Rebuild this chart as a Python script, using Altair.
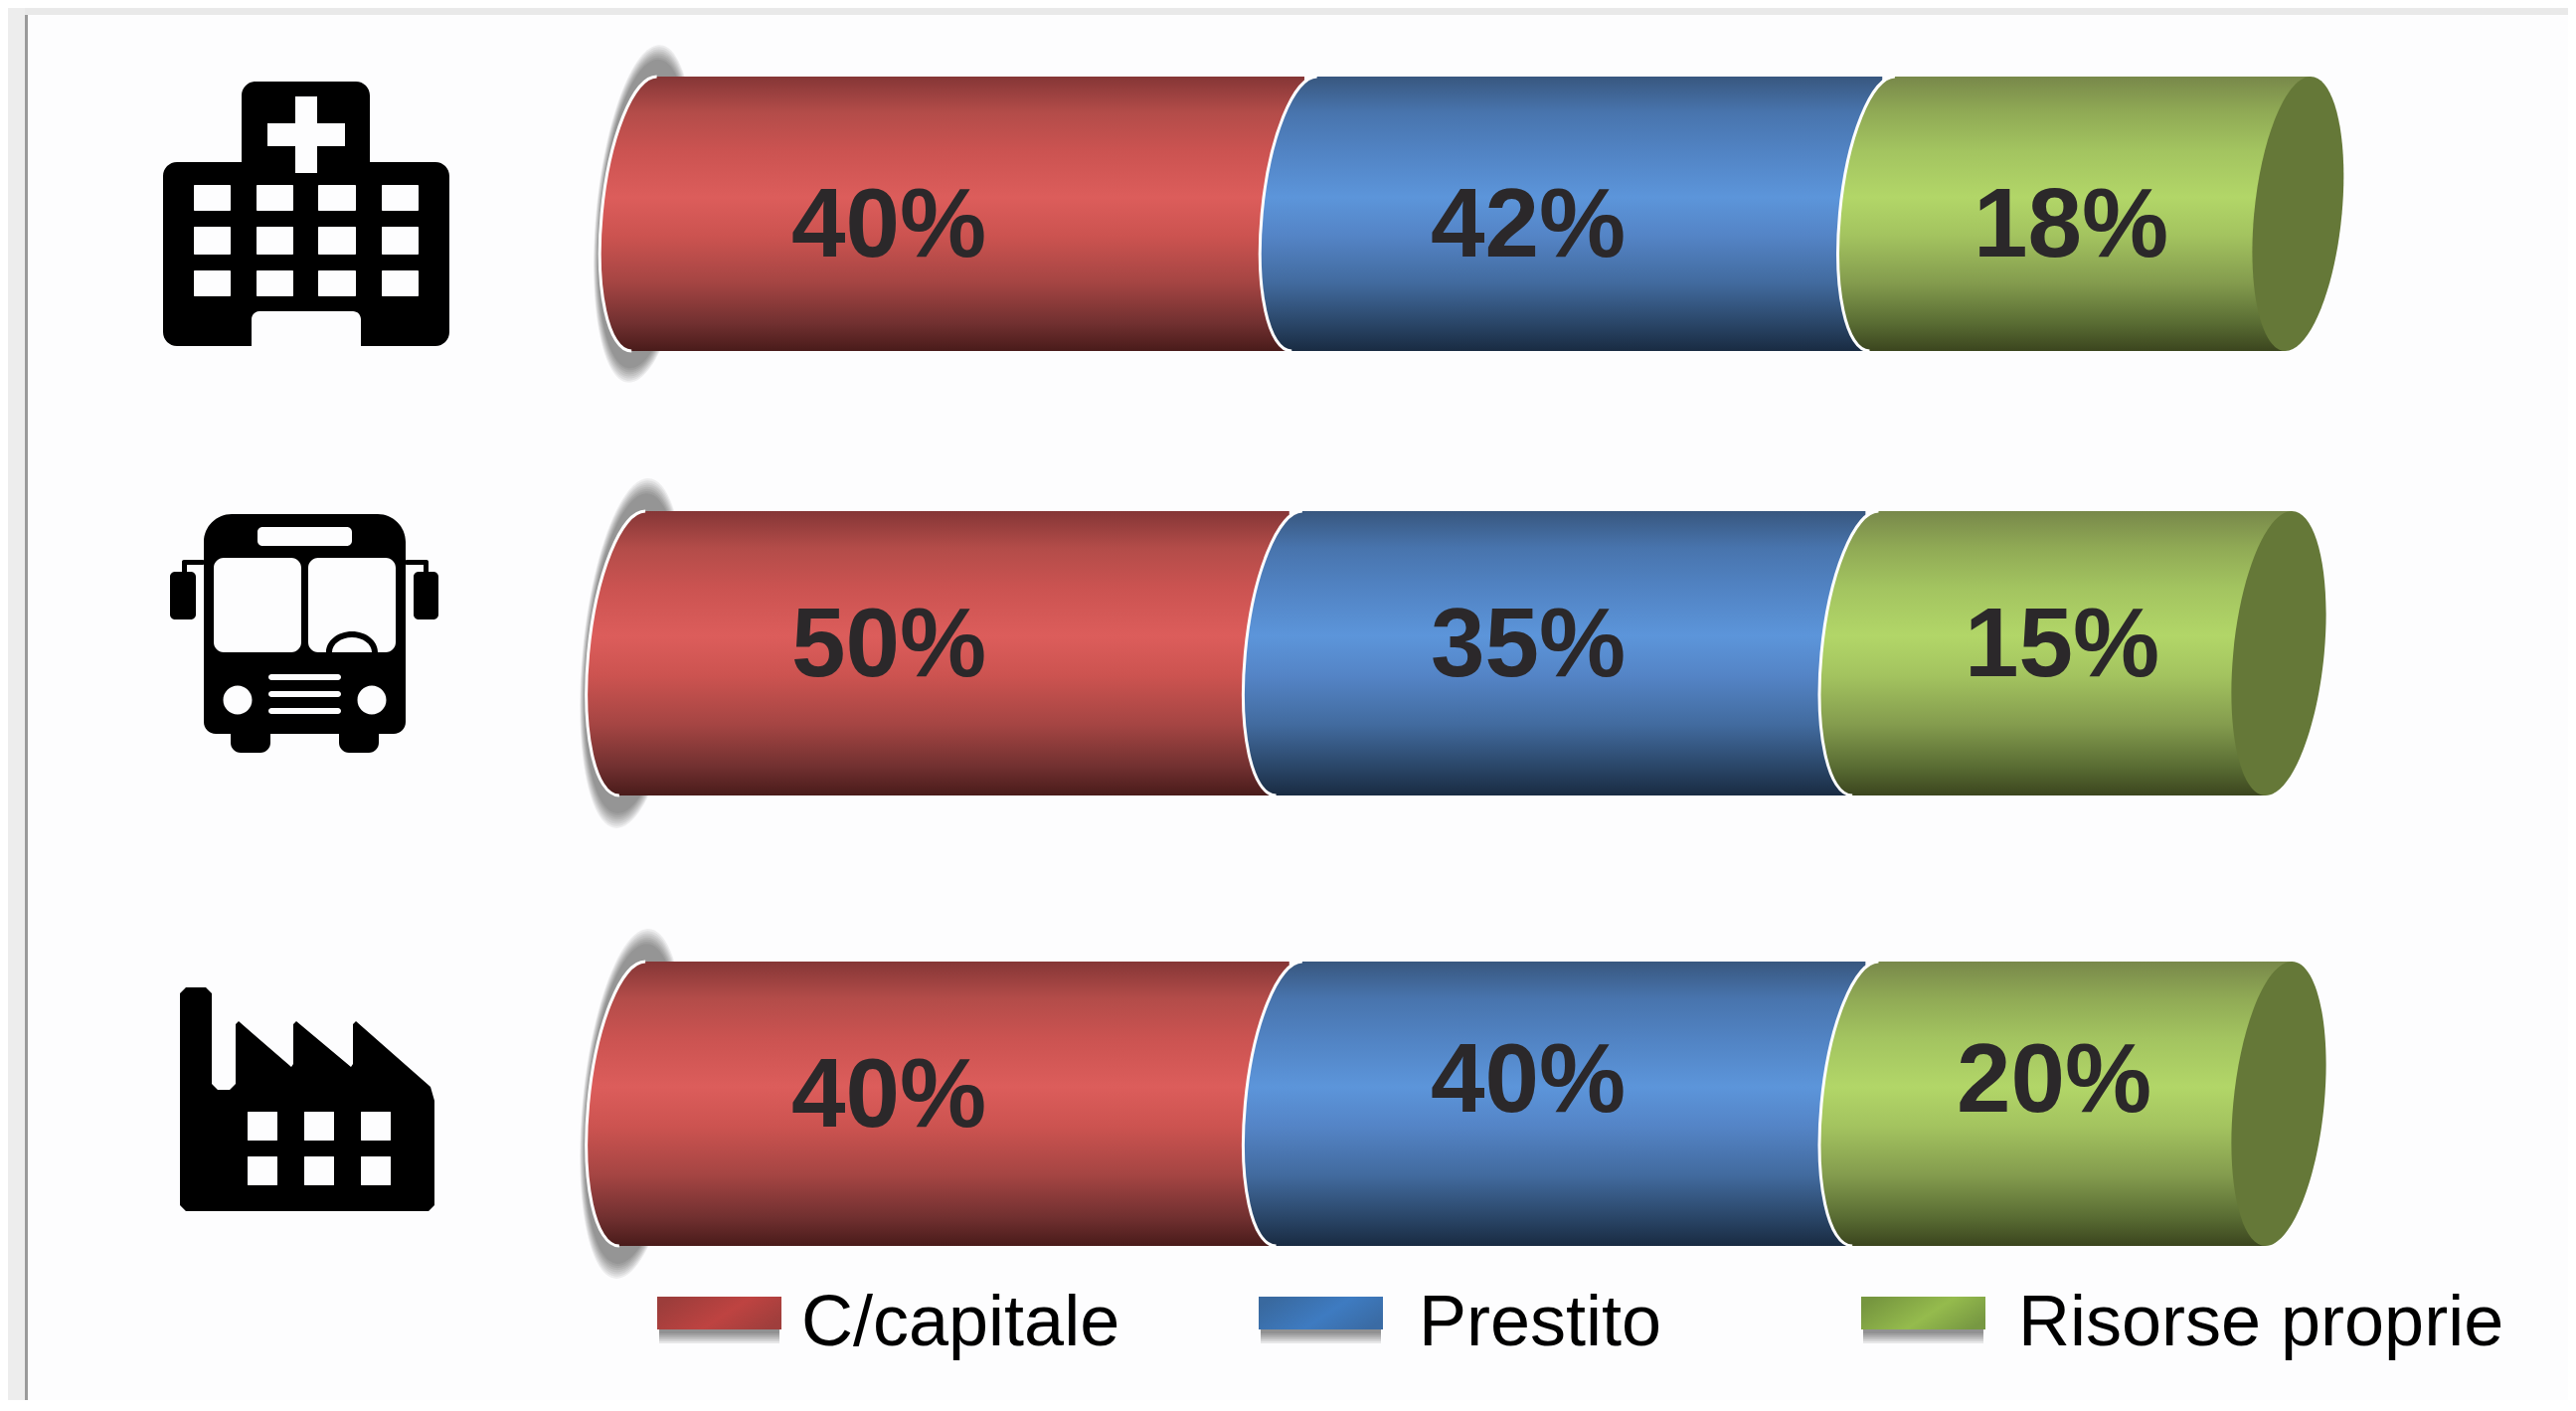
import altair as alt
import pandas as pd

# ---------- values ----------
series = ["C/capitale", "Prestito", "Risorse proprie"]
row_names = ["Ospedale", "Autobus", "Fabbrica"]
labels = [[40, 42, 18], [50, 35, 15], [40, 40, 20]]
drawn_share = [[40.1, 35.1, 25.25], [39.9, 35.0, 25.1], [39.9, 35.0, 25.1]]
row_start = [0.72, 0.0, 0.0]
row_top = [77, 514, 967]
row_bottom = [353, 800, 1253]
label_x = [[894, 1537, 2083], [894, 1537, 2074], [894, 1537, 2066]]
label_base = [[258, 258, 258], [680, 680, 680], [1133, 1118, 1118]]
legend_x = [661, 1266, 1872]
legend_text_x = [806, 1427, 2030]
icon_cx = [308, 308, 308]
icon_cy = [215, 640, 1105]

stops_all = {
    "C/capitale": [(0, "#853636"), (.13, "#b34c49"), (.27, "#cb5351"), (.44, "#dc5d5b"), (.58, "#cc5350"),
                   (.75, "#a54543"), (.9, "#713030"), (1, "#491b1a")],
    "Prestito": [(0, "#38577f"), (.13, "#4874ad"), (.27, "#5183c3"), (.44, "#5c95da"), (.58, "#5484c6"),
                 (.75, "#426b9f"), (.9, "#2a4668"), (1, "#192b42")],
    "Risorse proprie": [(0, "#78884a"), (.13, "#90aa55"), (.27, "#a3c460"), (.44, "#b2d668"), (.58, "#a3c35f"),
                        (.75, "#849c4e"), (.9, "#596c33"), (1, "#3b451e")],
}
legend_stops = {
    "C/capitale": ["#9c3d3b", "#be4341", "#9f3e3c"],
    "Prestito": ["#39699f", "#3e7bc1", "#3a6ba4"],
    "Risorse proprie": ["#76963f", "#95bb4d", "#779842"],
}
cap_color = "#657838"
text_color = "#2b282a"

# ---------- canvas ----------
W, H = 2575, 1400
UNIT = 16.56
ORIGIN = 636


def u(px):
    return (px - ORIGIN) / UNIT


xs = alt.Scale(domain=[u(8), u(8 + W)])
ys = alt.Scale(domain=[8 + H, 8])
X = alt.X("x:Q", scale=xs, axis=None)
Y = alt.Y("y:Q", scale=ys, axis=None)
SIZE = alt.Size("s:Q", scale=None, legend=None)

A, S, K = 0.155, 0.046, 0.5523
TILT_PX = 13


def mp(u_, v_, a=A, s=S):
    return f"{a * u_ + s * v_:.5f},{-0.5 * v_:.5f}"


def left_arc(a=A, s=S):
    return (f"M{mp(0, 1, a, s)}C{mp(-K, 1, a, s)} {mp(-1, K, a, s)} {mp(-1, 0, a, s)}"
            f"C{mp(-1, -K, a, s)} {mp(-K, -1, a, s)} {mp(0, -1, a, s)}")


def ellipse(a=A, s=S):
    return (left_arc(a, s) + f"C{mp(K, -1, a, s)} {mp(1, -K, a, s)} {mp(1, 0, a, s)}"
            f"C{mp(1, K, a, s)} {mp(K, 1, a, s)} {mp(0, 1, a, s)}Z")


tail = left_arc() + f"L{S + 0.06:.5f},0.5L{S + 0.06:.5f},-0.5Z"
wedge = f"M{-S - 0.01:.5f},-0.5L{S:.5f},-0.5L{-S:.5f},0.5L{-S - 0.01:.5f},0.5Z"


def grad(name):
    return {"gradient": "linear", "x1": 0, "y1": 0, "x2": 0, "y2": 1,
            "stops": [{"offset": o, "color": c} for o, c in stops_all[name]]}


def rr(x0, y0, x1, y1, r, cw=True):
    if cw:
        return (f"M{x0 + r},{y0}H{x1 - r}A{r},{r} 0 0 1 {x1},{y0 + r}V{y1 - r}A{r},{r} 0 0 1 {x1 - r},{y1}"
                f"H{x0 + r}A{r},{r} 0 0 1 {x0},{y1 - r}V{y0 + r}A{r},{r} 0 0 1 {x0 + r},{y0}Z")
    return (f"M{x0 + r},{y0}A{r},{r} 0 0 0 {x0},{y0 + r}V{y1 - r}A{r},{r} 0 0 0 {x0 + r},{y1}"
            f"H{x1 - r}A{r},{r} 0 0 0 {x1},{y1 - r}V{y0 + r}A{r},{r} 0 0 0 {x1 - r},{y0}Z")


def poly(pts):
    return "M" + "L".join(f"{x},{y}" for x, y in pts) + "Z"


def circle_ccw(cx, cy, r):
    return f"M{cx + r},{cy}A{r},{r} 0 1 0 {cx - r},{cy}A{r},{r} 0 1 0 {cx + r},{cy}Z"


def hospital(ox, oy):
    def P(x, y):
        return f"{x - ox},{y - oy}"
    r, f = 14, 8
    body = (f"M{P(257, 82)}H{358 - ox}A{r},{r} 0 0 1 {P(372, 96)}V{163 - oy}H{438 - ox}"
            f"A{r},{r} 0 0 1 {P(452, 177)}V{334 - oy}A{r},{r} 0 0 1 {P(438, 348)}H{363 - ox}V{321 - oy}"
            f"A{f},{f} 0 0 0 {P(355, 313)}H{261 - ox}A{f},{f} 0 0 0 {P(253, 321)}V{348 - oy}H{178 - ox}"
            f"A{r},{r} 0 0 1 {P(164, 334)}V{177 - oy}A{r},{r} 0 0 1 {P(178, 163)}H{243 - ox}V{96 - oy}"
            f"A{r},{r} 0 0 1 {P(257, 82)}Z")
    cross = [(297, 97), (297, 124), (269, 124), (269, 147), (297, 147), (297, 174),
             (319, 174), (319, 147), (347, 147), (347, 124), (319, 124), (319, 97)]
    parts = [body, poly([(x - ox, y - oy) for x, y in cross])]
    for c0, c1 in [(195, 232), (258, 295), (320, 358), (384, 421)]:
        for r0, r1 in [(186, 212), (228, 256), (272, 298)]:
            parts.append(rr(c0 - ox, r0 - oy, c1 - ox, r1 - oy, 1, cw=False))
    return "".join(parts)


def bus(ox, oy):
    R = lambda x0, y0, x1, y1, r, cw=True: rr(x0 - ox, y0 - oy, x1 - ox, y1 - oy, r, cw)
    T, B = 28, 12
    x0, x1, y0, y1 = 205 - ox, 408 - ox, 517 - oy, 738 - oy
    body = (f"M{x0 + T},{y0}H{x1 - T}A{T},{T} 0 0 1 {x1},{y0 + T}V{y1 - B}A{B},{B} 0 0 1 {x1 - B},{y1}"
            f"H{x0 + B}A{B},{B} 0 0 1 {x0},{y1 - B}V{y0 + T}A{T},{T} 0 0 1 {x0 + T},{y0}Z")
    parts = [
        body,
        R(232, 725, 272, 757, 10), R(341, 725, 381, 757, 10),
        R(171, 575, 197, 623, 5), R(416, 575, 441, 623, 5),
        R(183, 563, 206, 568, 2), R(407, 563, 431, 568, 2),
        R(183, 563, 188, 577, 2), R(426, 563, 431, 577, 2),
        R(259, 530, 354, 549, 5, False),
        R(215, 561, 303, 656, 10, False), R(310, 561, 398, 656, 10, False),
        f"M{328 - ox},{656 - oy}A26,21 0 0 1 {380 - ox},{656 - oy}Z",
        f"M{374 - ox},{656 - oy}A20,15 0 0 0 {334 - ox},{656 - oy}Z",
        R(270, 678, 343, 684, 3, False), R(270, 695, 343, 701, 3, False), R(270, 712, 343, 718, 3, False),
        circle_ccw(239 - ox, 704 - oy, 14.5), circle_ccw(374 - ox, 704 - oy, 14.5),
    ]
    return "".join(parts)


def factory(ox, oy):
    pts = [(187, 993), (207, 993), (213, 999), (213, 1090), (219, 1096), (231, 1096), (237, 1090), (237, 1030),
           (240, 1027), (293, 1073), (295, 1070), (295, 1030), (298, 1027), (353, 1073), (355, 1070), (355, 1030),
           (358, 1027), (433, 1093), (437, 1107), (437, 1212), (431, 1218), (187, 1218), (181, 1212), (181, 999)]
    parts = [poly([(x - ox, y - oy) for x, y in pts])]
    for c0, c1 in [(249, 279), (306, 336), (363, 393)]:
        for r0, r1 in [(1118, 1147), (1163, 1192)]:
            parts.append(rr(c0 - ox, r0 - oy, c1 - ox, r1 - oy, 0.5, cw=False))
    return "".join(parts)


layers = []

# ---------- panel edges ----------
band = pd.DataFrame({"k": [0]})
for x0, x1, y0, y1, col in [
    (8, 2583, 8, 15, "#e9e9e9"),
    (8, 25, 8, 8 + H, "#ededed"),
    (25, 28, 15, 8 + H, "#9a9a9a"),
]:
    layers.append(alt.Chart(band).mark_rect(color=col, opacity=1).encode(
        x=alt.value(x0 - 8), x2=alt.value(x1 - 8), y=alt.value(y0 - 8), y2=alt.value(y1 - 8)))

# ---------- icons ----------
# Vega draws a custom symbol at sqrt(size) / 2 per path unit, so size 4 means one path unit = one pixel
for draw, cx, cy in zip([hospital, bus, factory], icon_cx, icon_cy):
    d = pd.DataFrame({"x": [u(cx)], "y": [cy]})
    layers.append(alt.Chart(d).mark_point(shape=draw(cx, cy), size=4, filled=True, fill="#000000",
                                          opacity=1, strokeWidth=0).encode(x=X, y=Y))

# ---------- cylinders ----------
row_rows = []
for i, name in enumerate(row_names):
    start = row_start[i]
    cum = start
    for j, sname in enumerate(series):
        row_rows.append({"row": name, "series": sname, "x": cum, "x2": cum + drawn_share[i][j],
                         "y": (row_top[i] + row_bottom[i]) / 2, "top": row_top[i], "bottom": row_bottom[i],
                         "s": 4 * (row_bottom[i] - row_top[i]) ** 2, "label": f"{labels[i][j]}%",
                         "lx": u(label_x[i][j]), "ly": label_base[i][j]})
        cum += drawn_share[i][j]
seg = pd.DataFrame(row_rows)

# soft shadow behind the left end, built from stacked translucent ellipses
first = seg[seg.series == series[0]].copy()
shadow_path = ellipse(a=0.143, s=0.045)
for f in [1.23, 1.215, 1.20, 1.185, 1.17, 1.155, 1.14, 1.125]:
    d = first.copy()
    d["s"] = d["s"] * f * f
    layers.append(alt.Chart(d).mark_point(shape=shadow_path, filled=True, fill="#000000", opacity=0.062,
                                          strokeWidth=0).encode(x=X, y=Y, size=SIZE))

for sname in series:
    d = seg[seg.series == sname]
    is_last = sname == series[-1]
    rect_kw = {"xOffset": TILT_PX}
    if is_last:
        rect_kw["x2Offset"] = -TILT_PX
    layers.append(alt.Chart(d).mark_rect(fill=grad(sname), opacity=1, strokeWidth=0, **rect_kw).encode(
        x=X, x2="x2:Q", y=alt.Y("top:Q", scale=ys, axis=None), y2="bottom:Q"))
    layers.append(alt.Chart(d).mark_point(shape=tail, filled=True, fill=grad(sname), opacity=1,
                                          strokeWidth=0).encode(x=X, y=Y, size=SIZE))
    layers.append(alt.Chart(d).mark_point(shape=left_arc(), filled=False, stroke="#ffffff", strokeWidth=3,
                                          opacity=1).encode(x=X, y=Y, size=SIZE))
    if is_last:
        end = d.copy()
        end["x"] = end["x2"]
        layers.append(alt.Chart(end).mark_point(shape=wedge, filled=True, fill=grad(sname), opacity=1,
                                                strokeWidth=0).encode(x=X, y=Y, size=SIZE))
        layers.append(alt.Chart(end).mark_point(shape=ellipse(a=0.16, s=S), filled=True, fill=cap_color,
                                                opacity=1, strokeWidth=0).encode(x=X, y=Y, size=SIZE))

# percentages
layers.append(alt.Chart(seg).mark_text(font="Liberation Sans", fontWeight="bold", fontSize=98, color=text_color,
                                       align="center", baseline="alphabetic").encode(
    x=alt.X("lx:Q", scale=xs, axis=None), y=alt.Y("ly:Q", scale=ys, axis=None), text="label:N"))

# ---------- legend ----------
for name, lx, tx in zip(series, legend_x, legend_text_x):
    w = 125
    for extra in [4, 6, 8, 10, 12, 14]:
        d = pd.DataFrame({"x": [u(lx + 2)], "x2": [u(lx + w - 2)], "top": [1310], "bottom": [1337 + extra]})
        layers.append(alt.Chart(d).mark_rect(fill="#000000", opacity=0.085, strokeWidth=0).encode(
            x=X, x2="x2:Q", y=alt.Y("top:Q", scale=ys, axis=None), y2="bottom:Q"))
    d = pd.DataFrame({"x": [u(lx)], "x2": [u(lx + w)], "top": [1304], "bottom": [1337]})
    c = legend_stops[name]
    g = {"gradient": "linear", "x1": 0, "y1": 0.3, "x2": 1, "y2": 0.7,
         "stops": [{"offset": 0, "color": c[0]}, {"offset": 0.55, "color": c[1]}, {"offset": 1, "color": c[2]}]}
    layers.append(alt.Chart(d).mark_rect(fill=g, opacity=1, strokeWidth=0).encode(
        x=X, x2="x2:Q", y=alt.Y("top:Q", scale=ys, axis=None), y2="bottom:Q"))
    d = pd.DataFrame({"x": [u(tx)], "y": [1353], "t": [name]})
    layers.append(alt.Chart(d).mark_text(font="Liberation Sans", fontSize=72, color="#000000", align="left",
                                         baseline="alphabetic").encode(x=X, y=Y, text="t:N"))

chart = alt.layer(*layers).properties(
    width=W, height=H, padding=0, background="#fdfdfe",
    autosize=alt.AutoSizeParams(type="none"),
).configure_view(stroke=None)

chart.save("out.html", embed_options={"renderer": "svg", "actions": False})
